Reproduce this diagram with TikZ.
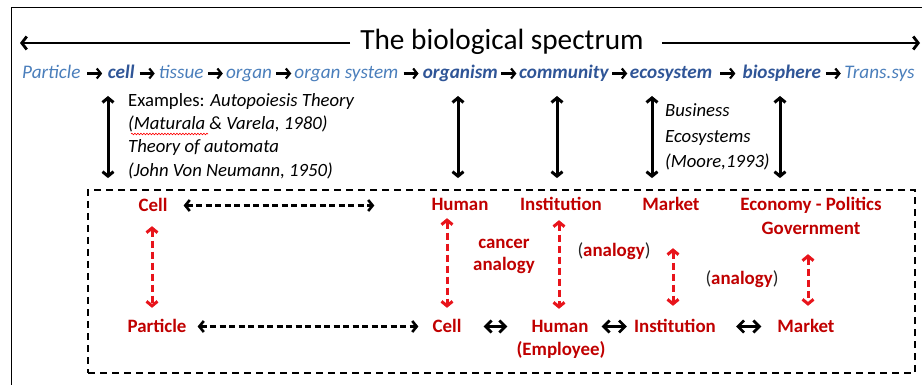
\documentclass[tikz,border=0pt]{standalone}
\usepackage{fontspec}
\setmainfont{Carlito}
\usetikzlibrary{arrows.meta,decorations.pathmorphing,calc}
\definecolor{lblue}{HTML}{4A7EBB}
\definecolor{dblue}{HTML}{2F5597}
\definecolor{dred}{HTML}{C00000}
\definecolor{bred}{HTML}{E8141B}
\definecolor{pgray}{HTML}{262626}
\tikzset{
  word/.style={font=\fontsize{19.2}{23}\selectfont\itshape, text=lblue, inner sep=0pt, anchor=base west, text height=13pt, text depth=5pt},
  bword/.style={word, font=\fontsize{19.2}{23}\selectfont\bfseries\itshape, text=dblue},
  chainarr/.style={-{Straight Barb[length=4pt,width=10pt]}, line width=2.2pt, black},
  note/.style={font=\fontsize{18.7}{23}\selectfont\itshape, inner sep=0pt, anchor=base west},
  lab/.style={font=\fontsize{18.9}{23}\selectfont\bfseries, text=dred, inner sep=0pt, anchor=base, text height=13pt, text depth=4pt},
  solidarr/.style={{Straight Barb[length=4.5pt,width=11pt]}-{Straight Barb[length=4.5pt,width=11pt]}, line width=3pt, black},
  bigarr/.style={-{Straight Barb[length=5pt,width=13pt]}, line width=2.8pt, black},
  bdash/.style={{Straight Barb[length=4.5pt,width=11pt]}-{Straight Barb[length=4.5pt,width=11pt]}, line width=2.6pt, black, dash pattern=on 6pt off 3.5pt},
  rdash/.style={{Straight Barb[length=4.5pt,width=11pt]}-{Straight Barb[length=4.5pt,width=11pt]}, line width=3pt, bred, dash pattern=on 7pt off 4pt},
  tiny/.style={{Straight Barb[length=6pt,width=12pt]}-{Straight Barb[length=6pt,width=12pt]}, line width=2.8pt, black},
}
\begin{document}
\begin{tikzpicture}[x=1pt,y=-1pt]
\useasboundingbox (0,0) rectangle (922,385);
% outer frame
\draw[line width=1.5pt] (11.5,385) -- (11.5,7.5) -- (922,7.5);

% title
\node[font=\fontsize{29.3}{34}\selectfont, inner sep=0pt, anchor=base] (title) at (502,50) {The biological spectrum};
\coordinate (lend) at (20,43);
\coordinate (rend) at (920,43);
\draw[bigarr] ([xshift=-10pt]title.west |- lend) -- (lend);
\draw[bigarr] ([xshift=18pt]title.east |- rend) -- (rend);

% spectrum line
\node[word] (w1) at (22,79) {Particle};
\node[bword] (w2) at ([xshift=27pt]w1.base east) {cell};
\node[word] (w3) at ([xshift=24pt]w2.base east) {tissue};
\node[word] (w4) at ([xshift=22pt]w3.base east) {organ};
\node[word] (w5) at ([xshift=22pt]w4.base east) {organ system};
\node[bword] (w6) at ([xshift=24pt]w5.base east) {organism};
\node[bword] (w7) at ([xshift=21pt]w6.base east) {community};
\node[bword] (w8) at ([xshift=21pt]w7.base east) {ecosystem};
\node[bword] (w9) at ([xshift=30pt]w8.base east) {biosphere};
\node[word] (w10) at ([xshift=23pt]w9.base east) {Trans.sys};
\foreach \a/\b in {w1/w2,w2/w3,w3/w4,w4/w5,w5/w6,w6/w7,w7/w8,w8/w9,w9/w10}
  \draw[chainarr] ($([yshift=5.5pt]\a.base east)!0.5!([yshift=5.5pt]\b.base west)+(-7,0)$) -- ++(15,0);

% examples text
\node[note] (e1) at (128,107) {\upshape Examples: \itshape Autopoiesis Theory};
\node[note] (e2) at (128,130) {(Maturala \& Varela, 1980)};
\node[note] (e3) at (128,153) {Theory of automata};
\node[note] (e4) at (128,177) {(John Von Neumann, 1950)};
\draw[red, line width=0.6pt, decorate, decoration={snake, amplitude=0.8pt, segment length=3pt}] ([xshift=3pt,yshift=-4pt]e2.base west) -- ([xshift=80pt,yshift=-4pt]e2.base west);

% business ecosystems
\node[note] (b1) at (665,117) {Business};
\node[note] (b2) at (665,143) {Ecosystems};
\node[note] (b3) at (665,168) {(Moore,1993)};

% dashed box
\node[draw, line width=1.8pt, dash pattern=on 7pt off 5pt, minimum width=827pt, minimum height=183pt, inner sep=0pt] (box) at (501.5,281.5) {};

% vertical black arrows
\coordinate (v1t) at (108,96);
\coordinate (v2t) at (458,96);
\coordinate (v3t) at (557,96);
\coordinate (v4t) at (652,96);
\coordinate (v5t) at (780,96);
\foreach \v in {v1t,v2t,v3t,v4t,v5t}
  \draw[solidarr, shorten >=11pt] (\v) -- (\v |- box.north);

% red labels top row
\node[lab] (cellT) at (153,212) {Cell};
\node[lab] (humanT) at (460,211) {Human};
\node[lab] (instT) at (561,211) {Institution};
\node[lab] (marketT) at (671,211) {Market};
\node[lab] (econ) at (811,211) {Economy - Politics};
\node[lab] (gov) at (811,234) {Government};
\node[lab] (canc1) at (504,248) {cancer};
\node[lab] (canc2) at (504,270) {analogy};
\node[lab] (an1) at (614,257) {{\mdseries\color{pgray}(}analogy{\mdseries\color{pgray})}};
\node[lab] (an2) at (742,284) {{\mdseries\color{pgray}(}analogy{\mdseries\color{pgray})}};

% red labels bottom row
\node[lab] (particle) at (157,332) {Particle};
\node[lab] (cellB) at (447,332) {Cell};
\node[lab] (humanB) at (560,332) {Human};
\node[lab] (employee) at (561,355) {(Employee)};
\node[lab] (instB) at (675,332) {Institution};
\node[lab] (marketB) at (806,332) {Market};

% red vertical dashed arrows
\draw[rdash, shorten <=10pt, shorten >=11pt] ([xshift=-1pt]cellT.south) -- ([xshift=-1pt]cellT.south |- particle.north);
\draw[rdash, shorten <=3pt, shorten >=11pt] (cellB.north |- humanT.south) -- (cellB.north);
\draw[rdash, shorten <=5pt, shorten >=10pt] ([xshift=-2pt]instT.south) -- ([xshift=-2pt]instT.south |- humanB.north);
\draw[rdash, shorten <=33pt, shorten >=13pt] ([xshift=2pt]marketT.south) -- ([xshift=2pt]marketT.south |- instB.north);
\draw[rdash, shorten <=16pt, shorten >=13pt] ([xshift=-3pt]gov.south) -- ([xshift=-3pt]gov.south |- marketB.north);

% black horizontal dashed arrows
\draw[bdash, shorten <=16pt, shorten >=57pt] ([yshift=2pt]cellT.east) -- ([yshift=2pt]cellT.east -| humanT.west);
\draw[bdash, shorten <=11pt, shorten >=14pt] ([yshift=1pt]particle.east) -- ([yshift=1pt]particle.east -| cellB.west);
\draw[tiny, shorten <=22pt, shorten >=24pt] ([yshift=1pt]cellB.east) -- ([yshift=1pt]cellB.east -| humanB.west);
\draw[tiny, shorten <=13pt, shorten >=7pt] ([yshift=1pt]humanB.east) -- ([yshift=1pt]humanB.east -| instB.west);
\draw[tiny, shorten <=20pt, shorten >=16pt] ([yshift=1pt]instB.east) -- ([yshift=1pt]instB.east -| marketB.west);
\end{tikzpicture}
\end{document}
